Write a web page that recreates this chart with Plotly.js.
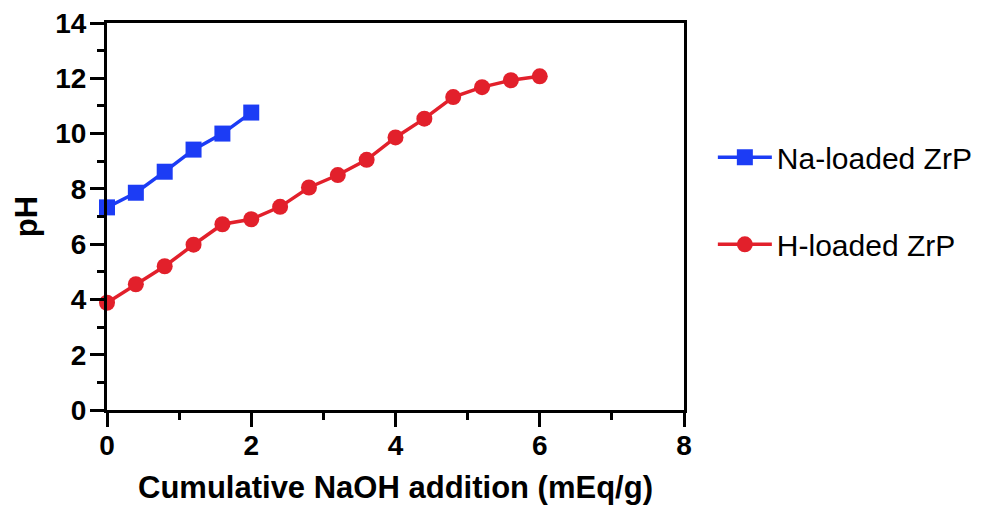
<!DOCTYPE html>
<html>
<head>
<meta charset="utf-8">
<script src="https://cdn.plot.ly/plotly-3.0.1.min.js"></script>
<style>html,body{margin:0;padding:0;background:#fff;}#chart{width:989px;height:512px;}</style>
</head>
<body>
<div id="chart"></div>
<script>
const naX = [0, 0.4, 0.8, 1.2, 1.6, 2.0];
const naY = [7.33, 7.86, 8.62, 9.42, 10.0, 10.76];
const hX = [0, 0.4, 0.8, 1.2, 1.6, 2.0, 2.4, 2.8, 3.2, 3.6, 4.0, 4.4, 4.8, 5.2, 5.6, 6.0];
const hY = [3.88, 4.55, 5.2, 5.98, 6.72, 6.9, 7.35, 8.05, 8.5, 9.05, 9.86, 10.54, 11.32, 11.68, 11.93, 12.07];
const seriesNames = ["Na-loaded ZrP", "H-loaded ZrP"];
const xTitle = "Cumulative NaOH addition (mEq/g)";
const yTitle = "pH";

const FONT = "Liberation Sans, Arial, sans-serif";
const blue = "#1c3cf5", red = "#e2202b";
const traces = [
  {x: naX, y: naY, name: seriesNames[0], type: "scatter", mode: "lines+markers", legendgroup: "a",
   line: {color: blue, width: 3.5}, marker: {symbol: "square", size: 16, color: blue}, cliponaxis: false},
  {x: hX, y: hY, name: seriesNames[1], type: "scatter", mode: "lines+markers", legendgroup: "b",
   line: {color: red, width: 3.5}, marker: {symbol: "circle", size: 16, color: red}, cliponaxis: false}
];
const axisCommon = {
  showgrid: false, zeroline: false, showline: true, linecolor: "#000", linewidth: 3, mirror: true,
  ticks: "outside", tickwidth: 3, tickcolor: "#000", ticklen: 14,
  tickfont: {family: FONT, size: 28, color: "#000", weight: "bold"}
};
const layout = {
  width: 989, height: 512,
  margin: {l: 107, r: 305, t: 23, b: 102, autoexpand: false},
  paper_bgcolor: "#fff", plot_bgcolor: "#fff",
  font: {family: FONT, color: "#000"},
  xaxis: Object.assign({}, axisCommon, {
    range: [0, 8], dtick: 2, tick0: 0, ticklabelstandoff: -6,
    minor: {dtick: 1, ticklen: 7, tickwidth: 3, tickcolor: "#000", ticks: "outside"},
    title: {text: xTitle, font: {size: 31, weight: "bold", family: FONT}, standoff: 17}
  }),
  yaxis: Object.assign({}, axisCommon, {
    range: [0, 14], dtick: 2, tick0: 0, ticklabelstandoff: -2,
    minor: {dtick: 1, ticklen: 7, tickwidth: 3, tickcolor: "#000", ticks: "outside"},
    title: {text: yTitle, font: {size: 31, weight: "bold", family: FONT}, standoff: 9}
  }),
  showlegend: true,
  legend: {x: 1.05, xanchor: "left", y: 0.72, yanchor: "top", traceorder: "grouped", tracegroupgap: 45,
           font: {size: 30, family: FONT, color: "#000"}, itemwidth: 54, bgcolor: "rgba(0,0,0,0)"}
};
Plotly.newPlot("chart", traces, layout, {displayModeBar: false, staticPlot: true});
</script>
</body>
</html>
